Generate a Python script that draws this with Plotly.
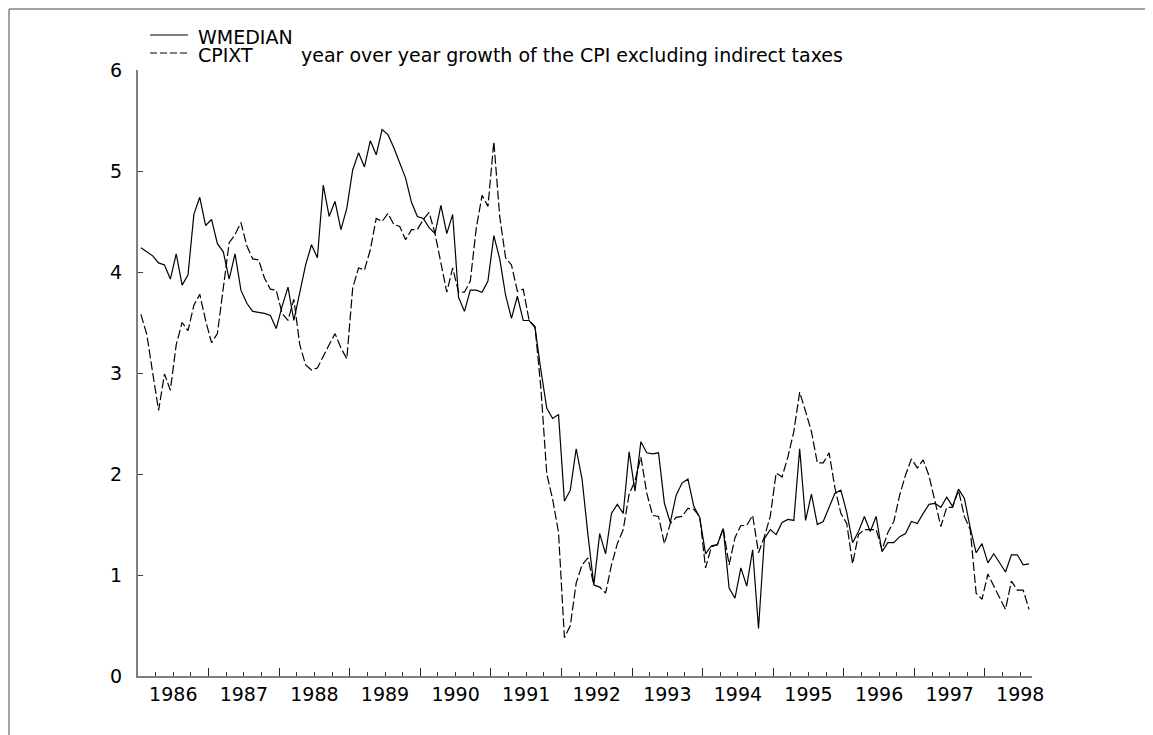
import pandas as pd
import plotly.graph_objects as go

# monthly observations, Jan 1986 .. Aug 1998
months = pd.date_range("1986-01-01", periods=152, freq="MS")

wmedian = [
    4.24, 4.20, 4.16, 4.09, 4.07, 3.93, 4.18, 3.87, 3.97, 4.57,
    4.74, 4.46, 4.52, 4.28, 4.20, 3.93, 4.18, 3.82, 3.69, 3.61,
    3.60, 3.59, 3.57, 3.44, 3.66, 3.85, 3.52, 3.81, 4.07, 4.27,
    4.14, 4.86, 4.55, 4.70, 4.42, 4.63, 5.01, 5.18, 5.04, 5.30,
    5.16, 5.41, 5.36, 5.23, 5.08, 4.93, 4.69, 4.55, 4.53, 4.44,
    4.38, 4.66, 4.38, 4.57, 3.75, 3.61, 3.82, 3.82, 3.80, 3.91,
    4.36, 4.13, 3.77, 3.54, 3.76, 3.52, 3.52, 3.45, 3.03, 2.65,
    2.55, 2.59, 1.73, 1.84, 2.25, 1.95, 1.40, 0.90, 1.41, 1.21,
    1.61, 1.70, 1.61, 2.22, 1.83, 2.32, 2.21, 2.20, 2.21, 1.71,
    1.52, 1.79, 1.91, 1.95, 1.68, 1.57, 1.21, 1.29, 1.30, 1.46,
    0.87, 0.77, 1.07, 0.89, 1.25, 0.47, 1.36, 1.45, 1.40, 1.52,
    1.55, 1.54, 2.25, 1.54, 1.80, 1.50, 1.53, 1.68, 1.81, 1.84,
    1.62, 1.32, 1.43, 1.58, 1.43, 1.58, 1.23, 1.32, 1.32, 1.38,
    1.41, 1.53, 1.51, 1.61, 1.70, 1.71, 1.67, 1.77, 1.68, 1.85,
    1.76, 1.47, 1.22, 1.31, 1.12, 1.21, 1.12, 1.03, 1.20, 1.20,
    1.10, 1.11,
]

cpixt = [
    3.58, 3.38, 3.00, 2.63, 2.99, 2.83, 3.28, 3.50, 3.42, 3.67,
    3.78, 3.52, 3.30, 3.39, 3.84, 4.29, 4.37, 4.49, 4.26, 4.13,
    4.12, 3.94, 3.83, 3.82, 3.59, 3.52, 3.73, 3.28, 3.08, 3.03,
    3.05, 3.17, 3.28, 3.39, 3.25, 3.14, 3.84, 4.04, 4.02, 4.22,
    4.53, 4.50, 4.58, 4.47, 4.45, 4.32, 4.42, 4.42, 4.52, 4.59,
    4.38, 4.09, 3.80, 4.04, 3.80, 3.80, 3.91, 4.43, 4.76, 4.65,
    5.29, 4.55, 4.14, 4.07, 3.81, 3.83, 3.52, 3.46, 2.85, 2.00,
    1.75, 1.42, 0.38, 0.50, 0.92, 1.10, 1.17, 0.90, 0.88, 0.82,
    1.10, 1.31, 1.45, 1.80, 1.93, 2.17, 1.81, 1.59, 1.58, 1.31,
    1.51, 1.57, 1.58, 1.66, 1.65, 1.58, 1.07, 1.28, 1.30, 1.46,
    1.10, 1.37, 1.49, 1.49, 1.59, 1.22, 1.38, 1.58, 2.01, 1.97,
    2.17, 2.42, 2.81, 2.62, 2.42, 2.11, 2.11, 2.21, 1.86, 1.61,
    1.51, 1.11, 1.40, 1.45, 1.45, 1.45, 1.25, 1.42, 1.53, 1.79,
    1.99, 2.15, 2.06, 2.14, 1.98, 1.74, 1.48, 1.67, 1.67, 1.84,
    1.58, 1.45, 0.82, 0.76, 1.01, 0.89, 0.77, 0.66, 0.94, 0.85,
    0.85, 0.66,
]

years = list(range(1986, 1999))
year_labels = [str(y) for y in years]
y_ticks = [0, 1, 2, 3, 4, 5, 6]

# decimal year at the middle of each month
x = months.year + (months.month - 0.5) / 12
x_range = [1986, 1998 + 8 / 12]

FONT = "DejaVu Sans, Verdana, sans-serif"

# page body adds 8px, so the margins are 8px smaller on the top/left
fig = go.Figure()
fig.add_trace(go.Scatter(x=x, y=wmedian, mode="lines", name="WMEDIAN",
                         line=dict(color="black", width=1.2)))
fig.add_trace(go.Scatter(x=x, y=cpixt, mode="lines", name="CPIXT", xaxis="x2",
                         line=dict(color="black", width=1.2, dash="9px,3px")))

# year labels sit in the middle of each year, quarter ticks as minor ticks
fig.update_layout(
    width=1153, height=735,
    margin=dict(l=130, r=129, t=62, b=67),
    paper_bgcolor="white", plot_bgcolor="white",
    showlegend=False,
    font=dict(family=FONT, size=19, color="black"),
    xaxis=dict(
        range=x_range,
        tickmode="array", tickvals=[y + 0.5 for y in years], ticktext=year_labels,
        ticks="inside", ticklen=4, tickwidth=1, tickcolor="#333",
        minor=dict(tickmode="array",
                   tickvals=[y + q for y in years for q in (0.25, 0.75)],
                   ticks="inside", ticklen=4, tickwidth=1, tickcolor="#333"),
        showline=True, linecolor="#808080", linewidth=2,
        showgrid=False, zeroline=False,
        ticklabelstandoff=0,
    ),
    xaxis2=dict(
        range=x_range, overlaying="x", anchor="y", side="bottom",
        tickmode="array", tickvals=years[1:],
        ticks="inside", ticklen=8, tickwidth=1.2, tickcolor="#222",
        showticklabels=False, showline=False, showgrid=False, zeroline=False,
    ),
    yaxis=dict(
        range=[0, 6], tickmode="array", tickvals=y_ticks,
        ticks="inside", ticklen=5, tickwidth=1, tickcolor="#444",
        showline=True, linecolor="#808080", linewidth=2,
        showgrid=False, zeroline=False,
        ticklabelstandoff=10,
    ),
)

# hand-made key at the top left, as in the original print
# (positions below are in screen pixels of the 1153x735 window)
def px_x(px):
    return (px - 138) / 894


def px_y(py):
    return (676 - py) / 606


key = [
    ("WMEDIAN", "solid", 35),
    ("CPIXT", "7px,3px", 53),
]
for label, dash, py in key:
    fig.add_shape(type="line", xref="paper", yref="paper",
                  x0=px_x(150), x1=px_x(188), y0=px_y(py), y1=px_y(py),
                  line=dict(color="black", width=1.2, dash=dash))
    fig.add_annotation(text=label, xref="paper", yref="paper",
                       x=px_x(197), y=px_y(py + 2), borderpad=0,
                       xanchor="left", yanchor="middle", showarrow=False,
                       font=dict(family=FONT, size=19, color="black"))

fig.add_annotation(text="year over year growth of the CPI excluding indirect taxes",
                   xref="paper", yref="paper", borderpad=0,
                   x=px_x(300), y=px_y(55),
                   xanchor="left", yanchor="middle", showarrow=False,
                   font=dict(family=FONT, size=19, color="black"))

# frame around the whole picture
fig.add_shape(type="rect", xref="paper", yref="paper",
              x0=px_x(9), x1=px_x(1148), y0=px_y(760), y1=px_y(9),
              line=dict(color="#444", width=1))

fig.write_html("out.html")
